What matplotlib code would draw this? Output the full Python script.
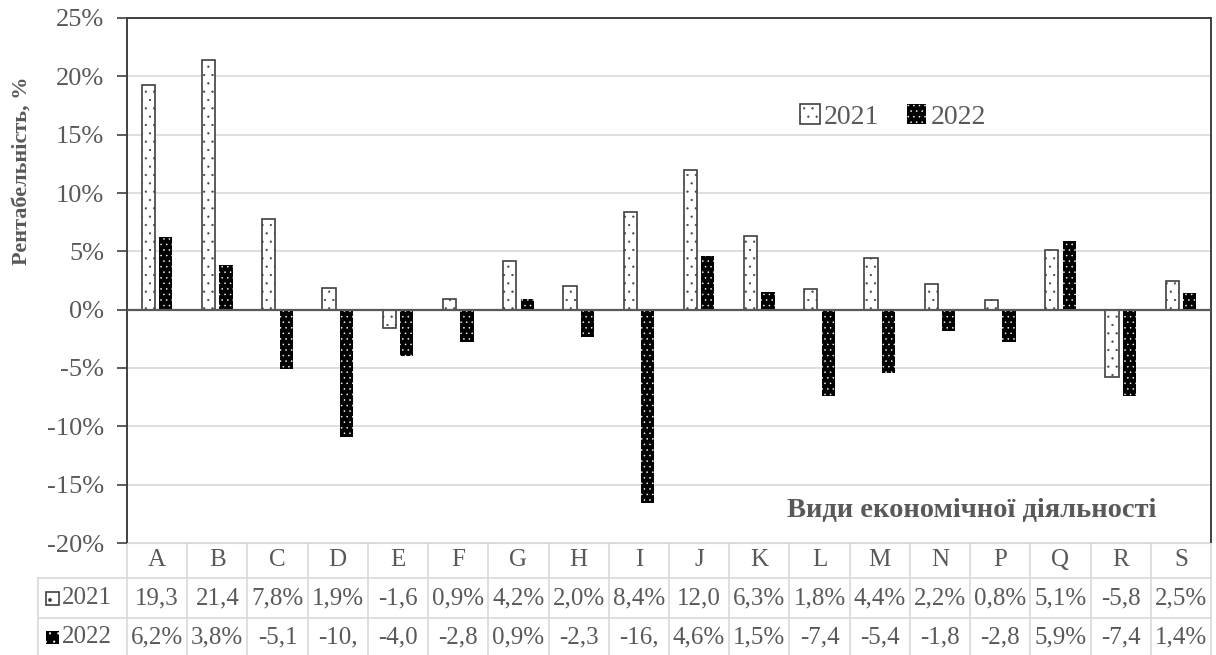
import numpy as np
import matplotlib.pyplot as plt
from matplotlib.patches import Rectangle
from matplotlib.transforms import blended_transform_factory

plt.rcParams['font.family'] = ['Liberation Serif', 'DejaVu Serif']
plt.rcParams['hatch.linewidth'] = 0.35

# Profitability by type of economic activity, %
categories = ['A', 'B', 'C', 'D', 'E', 'F', 'G', 'H', 'I', 'J',
              'K', 'L', 'M', 'N', 'P', 'Q', 'R', 'S']
y2021 = [19.3, 21.4, 7.8, 1.9, -1.6, 0.9, 4.2, 2.0, 8.4, 12.0,
         6.3, 1.8, 4.4, 2.2, 0.8, 5.1, -5.8, 2.5]
y2022 = [6.2, 3.8, -5.1, -10.9, -4.0, -2.8, 0.9, -2.3, -16.6, 4.6,
         1.5, -7.4, -5.4, -1.8, -2.8, 5.9, -7.4, 1.4]
years = ['2021', '2022']

grey = '#595959'
dark = '#404040'
light = '#d9d9d9'
W, H = 1216, 655

fig = plt.figure(figsize=(W / 100, H / 100), dpi=100)
ax = fig.add_axes([127 / W, 1 - 543 / H, (1211 - 127) / W, (543 - 18) / H])

x = np.arange(len(categories))
w = 0.22
ax.bar(x - 0.145, y2021, w, facecolor='white', edgecolor=dark, hatch='..',
       linewidth=1.2, label=years[0], zorder=3)
ax.bar(x + 0.145, y2022, w, facecolor='black', edgecolor='white', hatch='...',
       linewidth=0, label=years[1], zorder=3)

ax.set_xlim(-0.5, len(categories) - 0.5)
ax.set_ylim(-20, 25)
ax.set_yticks(np.arange(-20, 26, 5))
ax.set_yticklabels([f'{v}%' for v in range(-20, 26, 5)])
ax.set_xticks([])
ax.grid(axis='y', color=light, linewidth=1.2, zorder=0)
ax.axhline(0, color=grey, linewidth=1.6, zorder=4)
ax.tick_params(axis='y', length=7.5, width=1.2, color=dark, labelcolor=grey,
               labelsize=19, pad=9)
for s in ['left', 'top', 'right']:
    ax.spines[s].set_color(dark)
    ax.spines[s].set_linewidth(1.4)
ax.spines['bottom'].set_color(light)

fig.text(22 / W, 1 - 171 / H, 'Рентабельність, %', rotation=90, ha='center', va='center',
         fontsize=16, fontweight='bold', color=grey)

ax.legend(loc='center', bbox_to_anchor=(893 / W, 1 - 117 / H), bbox_transform=fig.transFigure,
          ncol=2, frameon=False, fontsize=20, labelcolor=grey, handlelength=0.7,
          handleheight=0.7, handletextpad=0.15, columnspacing=1.0)

fig.text(972 / W, 1 - 511 / H, 'Види економічної діяльності', ha='center', va='center',
         fontsize=20.5, fontweight='bold', color=grey)

# data table under the axes
trans = blended_transform_factory(ax.transData, fig.transFigure)
rows_px = [543, 578, 618, 655]
fy = [1 - p / H for p in rows_px]
cat_px = (1211 - 127) / len(categories)
xleft = -0.5 - (127 - 38) / cat_px
xright = len(categories) - 0.5

for k in range(len(categories) + 1):
    ax.plot([k - 0.5, k - 0.5], [fy[0], fy[3]], color=light, lw=1.2, transform=trans, clip_on=False)
ax.plot([xleft, xleft], [fy[1], fy[3]], color=light, lw=1.2, transform=trans, clip_on=False)
for yy in fy[1:3]:
    ax.plot([xleft, xright], [yy, yy], color=light, lw=1.2, transform=trans, clip_on=False)

def cell(v):
    return f'{v:.1f}%'.replace('.', ',')[:4]

header_y = (fy[0] + fy[1]) / 2
for i, c in enumerate(categories):
    ax.text(i, header_y, c, transform=trans, ha='center', va='center', fontsize=18, color=grey)

styles = [dict(facecolor='white', edgecolor=dark, hatch='.'),
          dict(facecolor='black', edgecolor='white', hatch='..')]
row_cy = [1 - 598 / H, 1 - 637 / H]
for r, (yr, vals) in enumerate(zip(years, [y2021, y2022])):
    cy = row_cy[r]
    for i, v in enumerate(vals):
        ax.text(i, cy, cell(v), transform=trans, ha='center', va='center', fontsize=18, color=grey)
    sq = Rectangle((46 / W, cy - 6.5 / H), 13 / W, 13 / H, transform=fig.transFigure,
                   linewidth=1.2 if r == 0 else 0, **styles[r])
    fig.add_artist(sq)
    fig.text(62 / W, cy, yr, ha='left', va='center', fontsize=18, color=grey)

fig.savefig('out.png', dpi=100)
